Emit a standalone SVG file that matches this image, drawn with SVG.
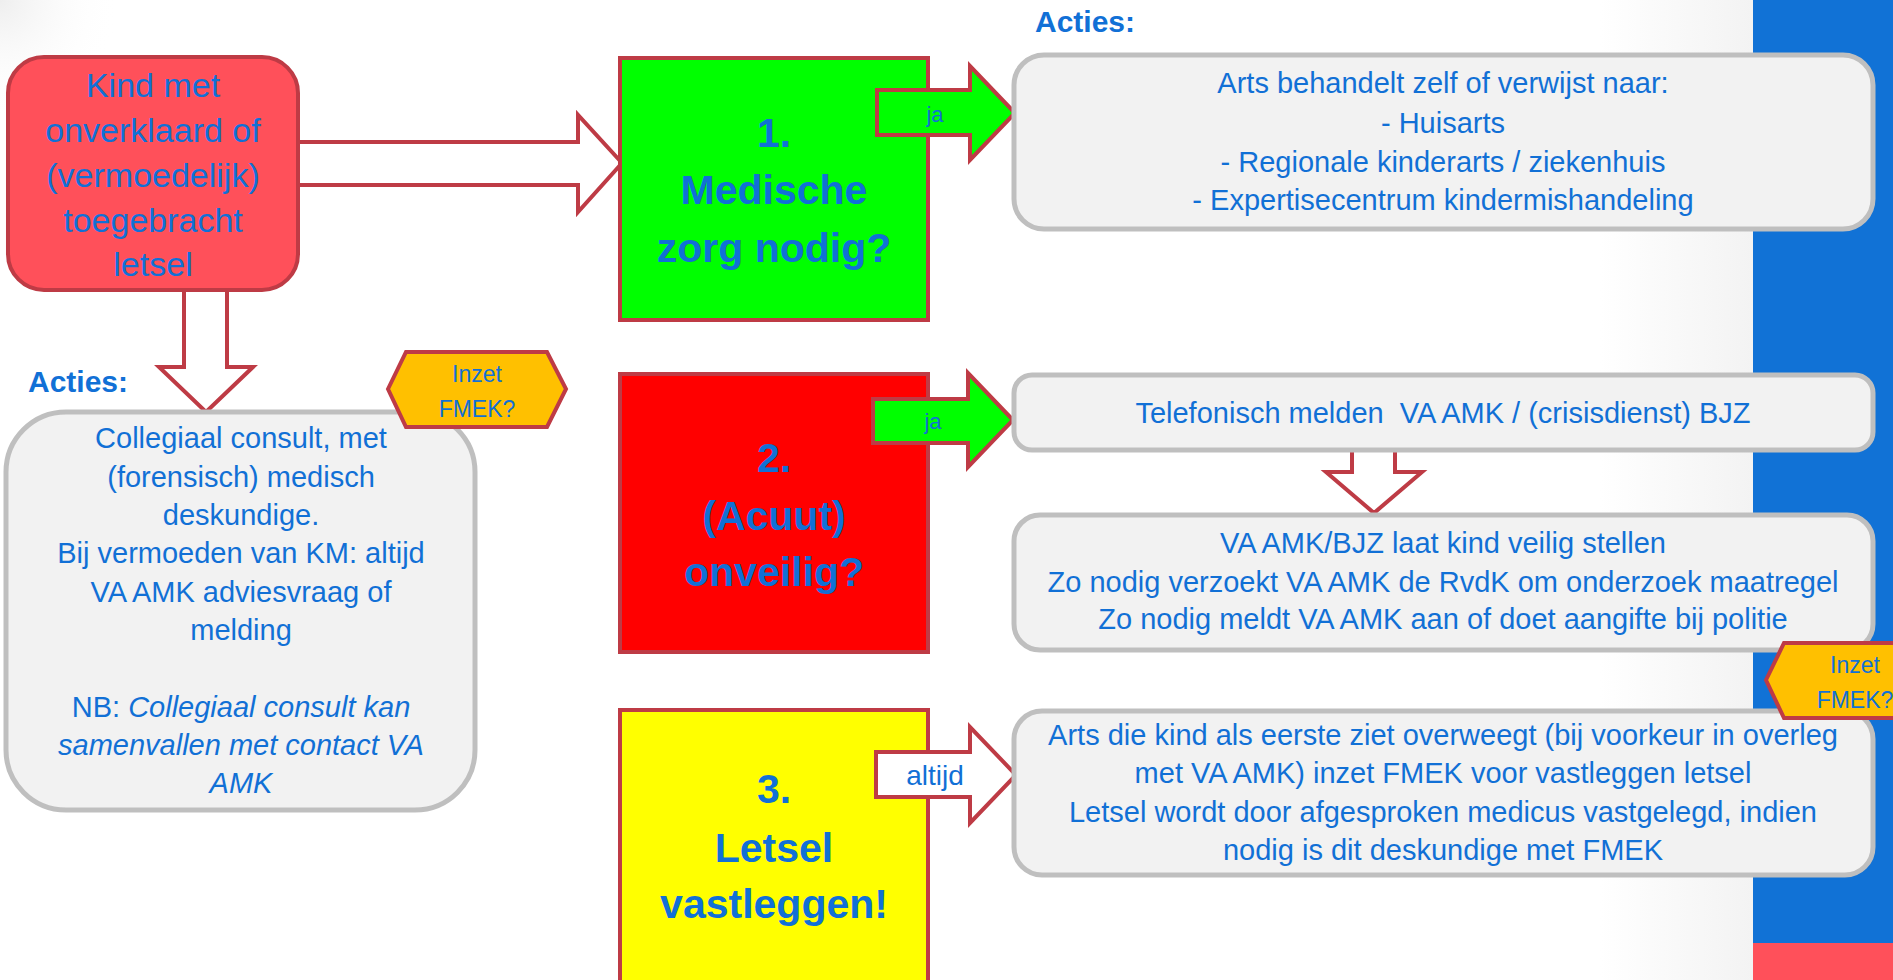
<svg xmlns="http://www.w3.org/2000/svg" width="1893" height="980" viewBox="0 0 1893 980">
<style>
.t{font-family:"Liberation Sans",Arial,sans-serif;fill:#1170D6;text-anchor:middle}
.n{font-size:29px}
.big{font-size:34px}
.q{font-size:41px;font-weight:bold}
.h{font-size:30px;font-weight:bold;text-anchor:start}
.act{fill:#F2F2F2;stroke:#BFBFBF;stroke-width:5}
.hol{fill:#FFFFFF;stroke:#BE3B45;stroke-width:4}
.grn{fill:#00FF00;stroke:#BE3B45;stroke-width:4}
.hex{fill:#FFC000;stroke:#BE3B45;stroke-width:4}
</style>
<defs>
<linearGradient id="side" x1="0" y1="0" x2="1" y2="0">
<stop offset="0" stop-color="#FFFFFF"/>
<stop offset="1" stop-color="#F3F3F3"/>
</linearGradient>
<radialGradient id="corner" cx="0" cy="0" r="1">
<stop offset="0" stop-color="#EEEEEE"/>
<stop offset="1" stop-color="#FFFFFF" stop-opacity="0"/>
</radialGradient>
</defs>
<rect x="0" y="0" width="1893" height="980" fill="#FFFFFF"/>
<rect x="0" y="0" width="120" height="120" fill="url(#corner)"/>
<rect x="1600" y="0" width="153" height="980" fill="url(#side)"/>
<rect x="1753" y="0" width="140" height="943" fill="#1172D6"/>
<rect x="1753" y="943" width="140" height="37" fill="#FF505A"/>

<g id="connectors">
<path class="hol" d="M298,142 H578 V115 L622,163 L578,212 V185 H298"/>
<path class="hol" d="M184,290 V367 H159 L206,412 L253,367 H227 V290"/>
<path class="hol" d="M1352,452 V472 H1326 L1374,513 L1422,472 H1395 V452"/>
</g>

<g id="start">
<rect x="8" y="57" width="290" height="233" rx="36" fill="#FF505A" stroke="#BE3B45" stroke-width="4"/>
<text class="t big" x="153" y="97">Kind met</text>
<text class="t big" x="153" y="142">onverklaard of</text>
<text class="t big" x="153" y="187">(vermoedelijk)</text>
<text class="t big" x="153" y="232">toegebracht</text>
<text class="t big" x="153" y="276">letsel</text>
</g>

<g id="acties-left">
<text class="t h" x="28" y="392">Acties:</text>
<rect class="act" x="6" y="412" width="469" height="398" rx="60"/>
<text class="t n" x="241" y="448">Collegiaal consult, met</text>
<text class="t n" x="241" y="487">(forensisch) medisch</text>
<text class="t n" x="241" y="525">deskundige.</text>
<text class="t n" x="241" y="563">Bij vermoeden van KM: altijd</text>
<text class="t n" x="241" y="602">VA AMK adviesvraag of</text>
<text class="t n" x="241" y="640">melding</text>
<text class="t n" x="241" y="717">NB: <tspan font-style="italic">Collegiaal consult kan</tspan></text>
<text class="t n" x="241" y="755" font-style="italic">samenvallen met contact VA</text>
<text class="t n" x="241" y="793" font-style="italic">AMK</text>
</g>

<g id="hex-1">
<polygon class="hex" points="388,389 406,352 547,352 566,389 547,427 406,427"/>
<text class="t" font-size="23" x="477" y="382">Inzet</text>
<text class="t" font-size="23" x="477" y="417">FMEK?</text>
</g>

<g id="q1">
<rect x="620" y="58" width="308" height="262" fill="#00FF00" stroke="#BE3B45" stroke-width="4"/>
<text class="t q" x="774" y="147">1.</text>
<text class="t q" x="774" y="204">Medische</text>
<text class="t q" x="774" y="262">zorg nodig?</text>
</g>

<g id="q2">
<rect x="620" y="374" width="308" height="278" fill="#FF0000" stroke="#BE3B45" stroke-width="4"/>
<text class="t q" x="774" y="472">2.</text>
<text class="t q" x="774" y="530">(Acuut)</text>
<text class="t q" x="774" y="586">onveilig?</text>
</g>

<g id="q3">
<rect x="620" y="710" width="308" height="290" fill="#FFFF00" stroke="#BE3B45" stroke-width="4"/>
<text class="t q" x="774" y="803">3.</text>
<text class="t q" x="774" y="862">Letsel</text>
<text class="t q" x="774" y="918">vastleggen!</text>
</g>

<g id="arrow-ja-1">
<path class="grn" d="M877,90 H970 V66 L1015,113 L970,160 V135 H877 Z"/>
<text class="t" font-size="22" x="935" y="122">ja</text>
</g>
<g id="arrow-ja-2">
<path class="grn" d="M873,399 H968 V373 L1013,420 L968,467 V443 H873 Z"/>
<text class="t" font-size="22" x="933" y="429">ja</text>
</g>
<g id="arrow-altijd">
<path class="hol" d="M876,752 H970 V727 L1016,775 L970,823 V797 H876 Z"/>
<text class="t" font-size="28" x="935" y="785">altijd</text>
</g>

<g id="acties-1">
<text class="t h" x="1035" y="32">Acties:</text>
<rect class="act" x="1014" y="55" width="859" height="174" rx="30"/>
<text class="t n" x="1443" y="93">Arts behandelt zelf of verwijst naar:</text>
<text class="t n" x="1443" y="133">- Huisarts</text>
<text class="t n" x="1443" y="172">- Regionale kinderarts / ziekenhuis</text>
<text class="t n" x="1443" y="210">- Expertisecentrum kindermishandeling</text>
</g>

<g id="acties-2a">
<rect class="act" x="1014" y="375" width="859" height="75" rx="18"/>
<text class="t n" x="1443" y="423" xml:space="preserve">Telefonisch melden  VA AMK / (crisisdienst) BJZ</text>
</g>

<g id="acties-2b">
<rect class="act" x="1014" y="515" width="859" height="135" rx="26"/>
<text class="t n" x="1443" y="553">VA AMK/BJZ laat kind veilig stellen</text>
<text class="t n" x="1443" y="592">Zo nodig verzoekt VA AMK de RvdK om onderzoek maatregel</text>
<text class="t n" x="1443" y="629">Zo nodig meldt VA AMK aan of doet aangifte bij politie</text>
</g>

<g id="acties-3">
<rect class="act" x="1014" y="711" width="859" height="164" rx="28"/>
<text class="t n" x="1443" y="745">Arts die kind als eerste ziet overweegt (bij voorkeur in overleg</text>
<text class="t n" x="1443" y="783">met VA AMK) inzet FMEK voor vastleggen letsel</text>
<text class="t n" x="1443" y="822">Letsel wordt door afgesproken medicus vastgelegd, indien</text>
<text class="t n" x="1443" y="860">nodig is dit deskundige met FMEK</text>
</g>

<g id="hex-2">
<polygon class="hex" points="1766,680 1784,643 1925,643 1944,680 1925,718 1784,718"/>
<text class="t" font-size="23" x="1855" y="673">Inzet</text>
<text class="t" font-size="23" x="1855" y="708">FMEK?</text>
</g>
</svg>
